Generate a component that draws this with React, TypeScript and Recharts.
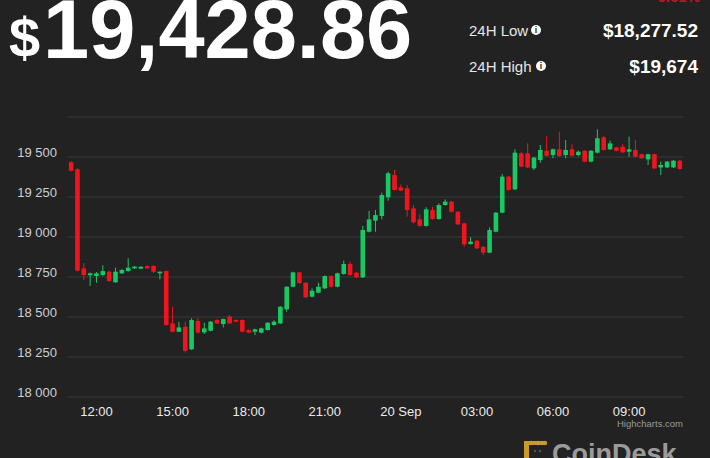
import React from "react";
import { ComposedChart, Bar, XAxis, YAxis, CartesianGrid } from "recharts";

// 15-minute candles, 19 Sep 11:00 -> 20 Sep 11:00
const opens = [
  19467, 19423, 18804, 18761, 18756, 18762, 18783, 18717, 18773, 18787,
  18804, 18802, 18819, 18819, 18773, 18787, 18460, 18408, 18439, 18298,
  18475, 18404, 18414, 18481, 18456, 18502, 18481, 18481, 18419, 18408,
  18402, 18419, 18450, 18460, 18548, 18689, 18779, 18714, 18627, 18652,
  18679, 18756, 18689, 18769, 18831, 18777, 18748, 19033, 19102, 19131,
  19248, 19387, 19310, 19304, 19179, 19110, 19069, 19169, 19112, 19200,
  19221, 19158, 19085, 18956, 18977, 18939, 18902, 19033, 19152, 19377,
  19298, 19523, 19523, 19429, 19481, 19539, 19512, 19548, 19512, 19548,
  19512, 19539, 19471, 19527, 19623, 19548, 19560, 19564, 19533, 19544,
  19517, 19485, 19517, 19435, 19435, 19435, 19477,
];
const highs = [
  19475, 19430, 18836, 18778, 18781, 18823, 18790, 18808, 18800, 18867,
  18818, 18817, 18822, 18823, 18785, 18790, 18564, 18470, 18471, 18492,
  18492, 18464, 18475, 18486, 18490, 18512, 18485, 18485, 18422, 18427,
  18433, 18468, 18480, 18568, 18693, 18783, 18783, 18718, 18679, 18714,
  18760, 18760, 18777, 18852, 18846, 18781, 19069, 19164, 19169, 19277,
  19408, 19419, 19329, 19325, 19200, 19142, 19186, 19190, 19210, 19235,
  19225, 19162, 19089, 18998, 18981, 18943, 19060, 19156, 19394, 19381,
  19548, 19533, 19585, 19500, 19575, 19631, 19552, 19658, 19606, 19579,
  19540, 19543, 19543, 19673, 19631, 19602, 19564, 19581, 19627, 19606,
  19521, 19521, 19521, 19471, 19475, 19481, 19481,
];
const lows = [
  19410, 18785, 18731, 18694, 18714, 18758, 18720, 18714, 18770, 18784,
  18800, 18799, 18801, 18775, 18735, 18445, 18405, 18405, 18278, 18294,
  18398, 18394, 18410, 18456, 18435, 18456, 18467, 18404, 18398, 18387,
  18398, 18415, 18446, 18456, 18533, 18685, 18708, 18617, 18623, 18648,
  18675, 18685, 18685, 18765, 18758, 18744, 18744, 19029, 19033, 19110,
  19227, 19290, 19286, 19127, 19085, 19065, 19065, 19108, 19108, 19196,
  19154, 19075, 18939, 18952, 18925, 18887, 18898, 19029, 19148, 19290,
  19294, 19436, 19431, 19419, 19464, 19504, 19492, 19502, 19492, 19504,
  19505, 19467, 19467, 19523, 19540, 19544, 19535, 19525, 19502, 19498,
  19488, 19450, 19425, 19387, 19431, 19431, 19421,
];
const closes = [
  19414, 18789, 18762, 18773, 18773, 18787, 18725, 18783, 18794, 18808,
  18815, 18814, 18804, 18783, 18783, 18450, 18408, 18435, 18289, 18481,
  18402, 18429, 18471, 18460, 18487, 18460, 18471, 18408, 18402, 18423,
  18429, 18464, 18471, 18564, 18689, 18779, 18712, 18623, 18664, 18689,
  18756, 18689, 18773, 18831, 18762, 18748, 19044, 19110, 19137, 19262,
  19398, 19294, 19290, 19169, 19092, 19069, 19173, 19112, 19200, 19221,
  19158, 19079, 18954, 18971, 18929, 18902, 19044, 19152, 19377, 19294,
  19527, 19440, 19435, 19496, 19544, 19508, 19548, 19506, 19544, 19508,
  19533, 19471, 19539, 19617, 19544, 19585, 19539, 19529, 19548, 19502,
  19492, 19517, 19429, 19450, 19471, 19477, 19425,
];

const startMinutes = 11 * 60; // 19 Sep 11:00
const stepMinutes = 15;
const pad = (n: number) => (n < 10 ? "0" + n : "" + n);
const times = opens.map((_, i) => {
  const m = startMinutes + i * stepMinutes;
  const day = m >= 1440 ? 20 : 19;
  const mm = m % 1440;
  return `${day} ${pad(Math.floor(mm / 60))}:${pad(mm % 60)}`;
});

const xTicks = ["19 12:00", "19 15:00", "19 18:00", "19 21:00", "20 00:00", "20 03:00", "20 06:00", "20 09:00"];
const xTickLabels = ["12:00", "15:00", "18:00", "21:00", "20 Sep", "03:00", "06:00", "09:00"];
const yTicks = [18000, 18250, 18500, 18750, 19000, 19250, 19500, 19750];
const yTickLabels = ["18 000", "18 250", "18 500", "18 750", "19 000", "19 250", "19 500", ""];

const data = opens.map((o, i) => ({
  time: times[i],
  open: o,
  high: highs[i],
  low: lows[i],
  close: closes[i],
}));

const GREEN = "#17c964";
const RED = "#f2141c";
const FONT = "'Liberation Sans', Arial, sans-serif";

const Candle = (props: any) => {
  const { x, y, width, height, payload } = props;
  if (!payload) return null;
  const { open, close, high, low } = payload;
  const ratio = height / (high - low);
  const py = (v: number) => y + (high - v) * ratio;
  const up = close >= open;
  const color = up ? GREEN : RED;
  const cx = x + width / 2;
  const top = py(Math.max(open, close));
  const bh = Math.max(1, Math.abs(py(open) - py(close)));
  const bw = 4.6;
  return (
    <g>
      <line x1={cx} x2={cx} y1={y} y2={y + height} stroke={color} strokeWidth={1} />
      <rect x={cx - bw / 2} y={top} width={bw} height={bh} fill={color} />
    </g>
  );
};

const YTick = (props: any) => {
  const { x, y, payload } = props;
  const idx = yTicks.indexOf(payload.value);
  return (
    <text x={x} y={y} textAnchor="end" fill="#cfcfcf" fontSize={13} fontFamily={FONT}>
      {idx >= 0 ? yTickLabels[idx] : ""}
    </text>
  );
};

const XTick = (props: any) => {
  const { x, y, payload } = props;
  const idx = xTicks.indexOf(payload.value);
  return (
    <text x={x} y={y} dy={11} textAnchor="middle" fill="#ececec" fontSize={13} fontFamily={FONT}>
      {idx >= 0 ? xTickLabels[idx] : ""}
    </text>
  );
};

const InfoIcon = ({ cx, cy }: { cx: number; cy: number }) => (
  <g>
    <circle cx={cx} cy={cy} r={5} fill="#ffffff" />
    <text x={cx} y={cy + 3.2} textAnchor="middle" fontSize={8.5} fontWeight="bold" fill="#222" fontFamily={FONT}>
      i
    </text>
  </g>
);

export default function App() {
  return (
    <div
      style={{
        position: "absolute",
        left: 0,
        top: 0,
        width: 710,
        height: 458,
        background: "#222222",
        overflow: "hidden",
      }}
    >
      <ComposedChart
        width={710}
        height={458}
        data={data}
        margin={{ top: 117, right: 27, bottom: 31, left: 0 }}
      >
        <CartesianGrid vertical={false} stroke="#3a3a3a" strokeWidth={1} />
        <XAxis
          dataKey="time"
          type="category"
          ticks={xTicks}
          tick={<XTick />}
          tickLine={false}
          axisLine={false}
          height={30}
          interval={0}
        />
        <YAxis
          type="number"
          domain={[18000, 19750]}
          ticks={yTicks}
          tick={<YTick />}
          tickLine={false}
          axisLine={false}
          width={68}
          tickMargin={5}
          interval={0}
        />
        <Bar
          dataKey={(d: any) => [d.low, d.high]}
          shape={<Candle />}
          isAnimationActive={false}
        />
      </ComposedChart>
      <svg
        width={710}
        height={458}
        style={{ position: "absolute", left: 0, top: 0, pointerEvents: "none" }}
      >
        <text x={700} y={1.5} textAnchor="end" fill="#c4161c" fontSize={15} fontWeight="bold" fontFamily={FONT}>
          -0.61%
        </text>
        <text x={9} y={57} fill="#ffffff" fontSize={56} fontWeight="bold" fontFamily={FONT}>
          $
        </text>
        <text x={43} y={58} fill="#ffffff" fontSize={83} fontWeight="bold" fontFamily={FONT}>
          19,428.86
        </text>
        <text x={469} y={36} fill="#e6e6e6" fontSize={15} fontFamily={FONT}>
          24H Low
        </text>
        <InfoIcon cx={536} cy={30} />
        <text x={698} y={36.5} textAnchor="end" fill="#ffffff" fontSize={19} fontWeight="bold" fontFamily={FONT}>
          $18,277.52
        </text>
        <text x={469} y={72} fill="#e6e6e6" fontSize={15} fontFamily={FONT}>
          24H High
        </text>
        <InfoIcon cx={541} cy={66} />
        <text x={698} y={73} textAnchor="end" fill="#ffffff" fontSize={19} fontWeight="bold" fontFamily={FONT}>
          $19,674
        </text>
        <text x={683} y={427} textAnchor="end" fill="#9a9a9a" fontSize={9.5} fontFamily={FONT}>
          Highcharts.com
        </text>
        <g>
          <rect x={524} y={441} width={5} height={18} fill="#c99a2e" />
          <rect x={524} y={441} width={22} height={4} fill="#c99a2e" />
          <circle cx={531} cy={443} r={2.2} fill="#c99a2e" />
          <circle cx={538} cy={443} r={2.2} fill="#c99a2e" />
          <circle cx={545} cy={443} r={2.2} fill="#c99a2e" />
          <circle cx={535} cy={451} r={1.2} fill="#555" />
          <circle cx={540} cy={451} r={1.2} fill="#555" />
        </g>
        <text x={552} y={463} fill="#9b9b9b" fontSize={27} fontWeight="bold" fontFamily={FONT}>
          CoinDesk
        </text>
      </svg>
    </div>
  );
}
